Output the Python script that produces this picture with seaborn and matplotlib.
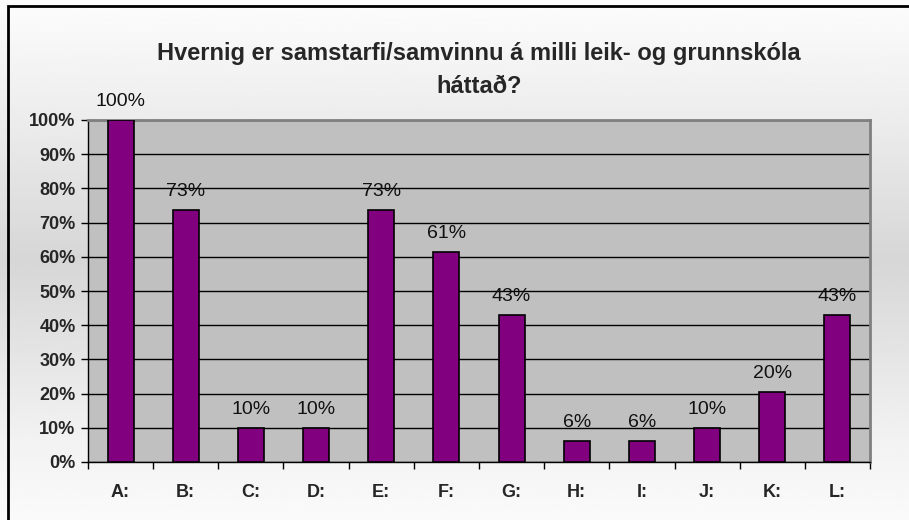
import numpy as np
import pandas as pd
import matplotlib
matplotlib.use("Agg")
import matplotlib.pyplot as plt
import seaborn as sns
from matplotlib.patches import Rectangle

categories = ["A:", "B:", "C:", "D:", "E:", "F:", "G:", "H:", "I:", "J:", "K:", "L:"]
values = [100, 73.7, 10, 10, 73.7, 61.4, 43, 6.1, 6.1, 10, 20.5, 43]
value_labels = ["100%", "73%", "10%", "10%", "73%", "61%", "43%", "6%", "6%", "10%", "20%", "43%"]
yticks = [0, 10, 20, 30, 40, 50, 60, 70, 80, 90, 100]
title = "Hvernig er samstarfi/samvinnu á milli leik- og grunnskóla\nháttað?"

sns.set_style("white")
plt.rcParams['font.family'] = ['Liberation Sans', 'DejaVu Sans']

W, H = 909, 520
fig = plt.figure(figsize=(W / 100, H / 100), dpi=100)

# background gradient
bg = fig.add_axes([0, 0, 1, 1], zorder=-10)
ys = np.linspace(0, 1, 200)
prof = np.interp(ys, [0, 0.25, 0.5, 0.85, 1.0], [0.99, 0.92, 0.84, 0.95, 0.98])
img = np.tile(prof[:, None], (1, 10))
bg.imshow(img, cmap="gray", vmin=0, vmax=1, aspect="auto", extent=[0, 1, 0, 1], origin="upper")
bg.set_xlim(0, 1)
bg.set_ylim(0, 1)
bg.axis("off")
bg.add_patch(Rectangle((8 / W, -0.1), 1.2, 1.1 - 6 / H, transform=bg.transAxes,
                       fill=False, edgecolor="black", linewidth=2))

ax = fig.add_axes([88 / W, 1 - 462 / H, (870 - 88) / W, (462 - 120) / H])
df = pd.DataFrame({"cat": categories, "val": values})
sns.barplot(data=df, x="cat", y="val", color="#800080", saturation=1,
            edgecolor="black", linewidth=1.2, width=0.4, ax=ax, zorder=3)
ax.set_facecolor("#c0c0c0")
ax.set_xlim(-0.5, len(categories) - 0.5)
ax.set_ylim(0, 100)
ax.set_yticks(yticks)
ax.set_yticklabels([f"{t}%" for t in yticks], fontweight="bold", fontsize=13)
ax.yaxis.grid(True, color="black", linewidth=1, zorder=0)
ax.set_axisbelow(True)
ax.tick_params(axis="y", direction="out", length=5, width=1, color="black", pad=4, left=True)
ax.set_xticks(range(len(categories)))
ax.set_xticklabels(categories, fontweight="bold", fontsize=13)
ax.tick_params(axis="x", which="major", length=0, pad=16)
ax.set_xticks(np.arange(-0.5, len(categories), 1), minor=True)
ax.tick_params(axis="x", which="minor", direction="out", length=5, width=1, color="black", bottom=True)
ax.set_xlabel("")
ax.set_ylabel("")
for s in ["left", "bottom"]:
    ax.spines[s].set_color("black")
    ax.spines[s].set_linewidth(1)
for s in ["top", "right"]:
    ax.spines[s].set_color("#808080")
    ax.spines[s].set_linewidth(2)

for i, (v, lab) in enumerate(zip(values, value_labels)):
    ax.annotate(lab, (i, v), xytext=(0, 7), textcoords="offset points",
                ha="center", va="bottom", fontsize=14, color="#111111")

fig.text((88 + 870) / 2 / W, 1 - 70 / H, title, ha="center", va="center",
         fontsize=17, fontweight="bold", linespacing=1.6)

fig.savefig("out.png", dpi=100)
